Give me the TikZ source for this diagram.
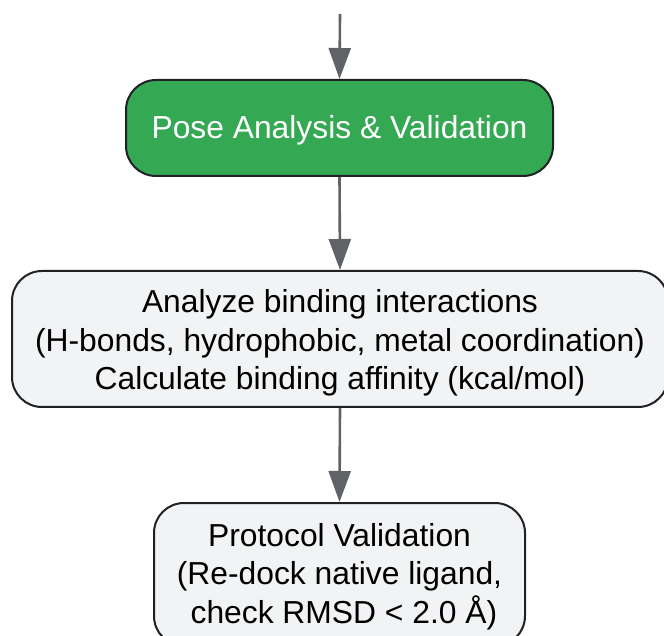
\documentclass[tikz,border=0pt]{standalone}
\usepackage{fontspec}
\setmainfont{Liberation Sans}
\usetikzlibrary{arrows.meta}
\definecolor{gfill}{HTML}{34A853}
\definecolor{lfill}{HTML}{F1F3F4}
\definecolor{edge}{HTML}{202124}
\definecolor{arr}{HTML}{5F6368}
\tikzset{
  box/.style={draw=edge, line width=2pt, rounded corners=30pt, align=center, inner sep=0pt,
    font=\fontsize{31.8}{38.5}\selectfont},
  gbox/.style={box, fill=gfill, text=white},
  lbox/.style={box, fill=lfill, text=black},
  arrow/.style={draw=arr, line width=2.6pt, -{Triangle[width=22pt,length=31pt]}}
}
\begin{document}
\begin{tikzpicture}[x=1pt,y=1pt]
\useasboundingbox (0,0) rectangle (664,635);
\coordinate (start) at (340,621);
\node[gbox, minimum width=427pt, minimum height=96pt] (pose) at (339.5,507) {\rule{0pt}{27pt}Pose Analysis \& Validation};
\node[lbox, minimum width=656pt, minimum height=136pt] (analyze) at (340,296) {\rule{0pt}{31pt}Analyze binding interactions\\(H-bonds, hydrophobic, metal coordination)\\Calculate binding affinity (kcal/mol)};
\node[lbox, minimum width=371pt, minimum height=143pt] (protocol) at (339.5,60.5) {\rule{0pt}{27pt}Protocol Validation\\(Re-dock native ligand,\\\hspace*{0.278em}check RMSD < 2.0 Å)};
\draw[arrow] (start) -- (pose.north);
\draw[arrow] (pose.south) -- (analyze.north);
\draw[arrow] (analyze.south) -- (protocol.north);
\end{tikzpicture}
\end{document}
